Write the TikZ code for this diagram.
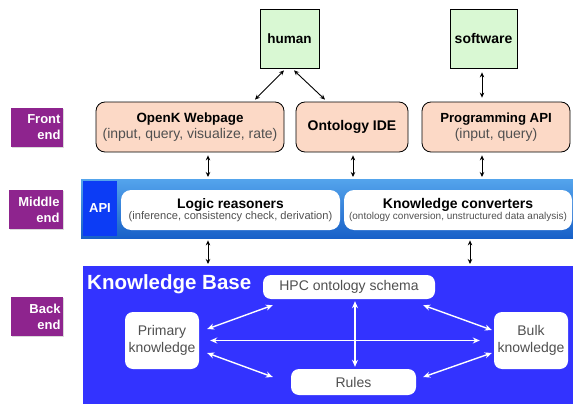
\documentclass[tikz,border=0pt]{standalone}
\usepackage{fontspec}
\setmainfont{Liberation Sans}
\usetikzlibrary{arrows.meta,shadows}
\definecolor{lblpurple}{RGB}{142,36,142}
\definecolor{kbblue}{RGB}{51,51,255}
\definecolor{apiblue}{RGB}{12,60,245}
\definecolor{midtop}{RGB}{84,164,236}
\definecolor{midbot}{RGB}{24,96,200}
\definecolor{salmon}{RGB}{252,217,198}
\definecolor{lgreen}{RGB}{217,248,211}
\definecolor{subgray}{RGB}{80,80,80}
\tikzset{
  actor/.style={draw=black, fill=lgreen, line width=0.8pt, font=\bfseries\fontsize{13.5}{16}\selectfont, inner sep=0pt},
  frontbox/.style={draw=black, fill=salmon, line width=0.8pt, rounded corners=9pt, align=center, inner sep=0pt, font=\fontsize{14}{16.5}\selectfont},
  ftitle/.style={},
  tierlbl/.style={fill=lblpurple, text=white, align=right, font=\bfseries\fontsize{13}{16}\selectfont, inner sep=0pt, text width=47pt, drop shadow={shadow xshift=1pt, shadow yshift=-1pt, opacity=0.3}},
  midbox/.style={fill=white, rounded corners=10pt, align=center, inner sep=0pt},
  kbbox/.style={fill=white, rounded corners=8pt, align=center, inner sep=0pt, text=subgray, font=\fontsize{14}{17}\selectfont},
  arr/.style={{Stealth[length=5pt,width=4.5pt]}-{Stealth[length=5pt,width=4.5pt]}, line width=0.9pt, black},
  warr/.style={{Stealth[length=7pt,width=6pt]}-{Stealth[length=7pt,width=6pt]}, line width=1.4pt, white},
}
\newcommand{\fttl}{\bfseries\fontsize{13.4}{16}\selectfont}
\begin{document}
\begin{tikzpicture}[x=1pt,y=-1pt]
\useasboundingbox (0,0) rectangle (573,404);
% bands
\node[fill=kbblue, minimum width=490pt, minimum height=138pt, inner sep=0pt, anchor=north west] (kb) at (83,266) {};
\node[top color=midtop, bottom color=midbot, minimum width=492pt, minimum height=59pt, inner sep=0pt, anchor=north west] (mid) at (81,179) {};
\node[fill=apiblue, text=white, font=\bfseries\fontsize{13}{15}\selectfont, minimum width=34pt, minimum height=55pt, inner sep=0pt] (api) at (100,208.5) {API};
% tier labels
\node[tierlbl, minimum width=52pt, minimum height=39pt] (lfront) at (37,127.5) {Front\\end};
\node[tierlbl, minimum width=54pt, minimum height=39pt] (lmid) at (36,209.5) {Middle\\end};
\node[tierlbl, minimum width=52pt, minimum height=39pt] (lback) at (37,316.5) {Back\\end};
% actors
\node[actor, minimum width=59pt, minimum height=59pt] (human) at (289.5,38.5) {human};
\node[actor, minimum width=67pt, minimum height=59pt, font=\bfseries\fontsize{14}{16}\selectfont] (software) at (483.5,38.5) {software};
% front end
\node[frontbox, minimum width=188pt, minimum height=50pt] (openk) at (190,127) {{\fttl OpenK Webpage}\\{\color{subgray}(input, query, visualize, rate)}};
\node[frontbox, minimum width=112pt, minimum height=50pt] (ide) at (352,127) {{\bfseries\fontsize{14}{16}\selectfont Ontology IDE}};
\node[frontbox, minimum width=148pt, minimum height=50pt] (progapi) at (496,127) {{\bfseries\fontsize{13.2}{16}\selectfont Programming API}\\{\color{subgray}(input, query)}};
% middle end
\node[midbox, minimum width=219pt, minimum height=40pt] (logic) at (230.5,210) {{\bfseries\fontsize{13.8}{16}\selectfont Logic reasoners}\\[-1pt]{\color{subgray}\fontsize{11.1}{13}\selectfont(inference, consistency check, derivation)}};
\node[midbox, minimum width=228pt, minimum height=40pt] (conv) at (458,210) {{\bfseries\fontsize{14}{16}\selectfont Knowledge converters}\\[-1pt]{\color{subgray}\fontsize{10}{12}\selectfont(ontology conversion, unstructured data analysis)}};
% knowledge base
\node[text=white, font=\bfseries\fontsize{20.5}{22}\selectfont, anchor=west, inner sep=0pt] (kbtitle) at (87,284) {Knowledge Base};
\node[kbbox, minimum width=172pt, minimum height=24pt] (hpc) at (349,287) {HPC ontology schema};
\node[kbbox, minimum width=74pt, minimum height=57pt] (primary) at (162,340.5) {Primary\\knowledge};
\node[kbbox, minimum width=74pt, minimum height=57pt] (bulk) at (531,340.5) {Bulk\\knowledge};
\node[kbbox, minimum width=125pt, minimum height=26pt] (rules) at (353.5,382) {Rules};
% black connectors
\draw[arr] ([xshift=-5.5pt,yshift=-2pt]human.south) -- ([xshift=65pt,yshift=2pt]openk.north);
\draw[arr] ([xshift=4.5pt,yshift=-2pt]human.south) -- ([xshift=-27pt,yshift=2pt]ide.north);
\draw[arr] ([xshift=-1.5pt,yshift=-4pt]software.south) -- ([xshift=-14pt,yshift=4pt]progapi.north);
\draw[arr] ([xshift=18pt,yshift=-3pt]openk.south) -- ([xshift=18pt,yshift=2pt]openk.south |- mid.north);
\draw[arr] ([xshift=1pt,yshift=-3pt]ide.south) -- ([xshift=1pt,yshift=2pt]ide.south |- mid.north);
\draw[arr] ([xshift=-14pt,yshift=-3pt]progapi.south) -- ([xshift=-14pt,yshift=2pt]progapi.south |- mid.north);
\draw[arr] ([xshift=18pt,yshift=-2pt]openk.south |- mid.south) -- ([xshift=18pt,yshift=2pt]openk.south |- kb.north);
\draw[arr] ([xshift=12pt,yshift=-2pt]conv.south |- mid.south) -- ([xshift=12pt,yshift=2pt]conv.south |- kb.north);
% white connectors
\draw[warr] ([xshift=8pt,yshift=11.5pt]primary.east) -- ([xshift=10pt,yshift=-6pt]hpc.south west);
\draw[warr] ([xshift=11pt]primary.east) -- ([xshift=-14pt]bulk.west);
\draw[warr] ([xshift=-12pt,yshift=-6pt]hpc.south east) -- ([xshift=-2pt,yshift=10.5pt]bulk.west);
\draw[warr] ([xshift=8pt,yshift=-12.5pt]primary.east) -- ([xshift=-18pt,yshift=5pt]rules.west);
\draw[warr] ([xshift=7pt,yshift=5pt]rules.east) -- ([xshift=-2pt,yshift=-12.5pt]bulk.west);
\draw[warr] ([xshift=6pt,yshift=-2pt]hpc.south) -- ([xshift=6pt,yshift=2pt]hpc.south |- rules.north);
\end{tikzpicture}
\end{document}
